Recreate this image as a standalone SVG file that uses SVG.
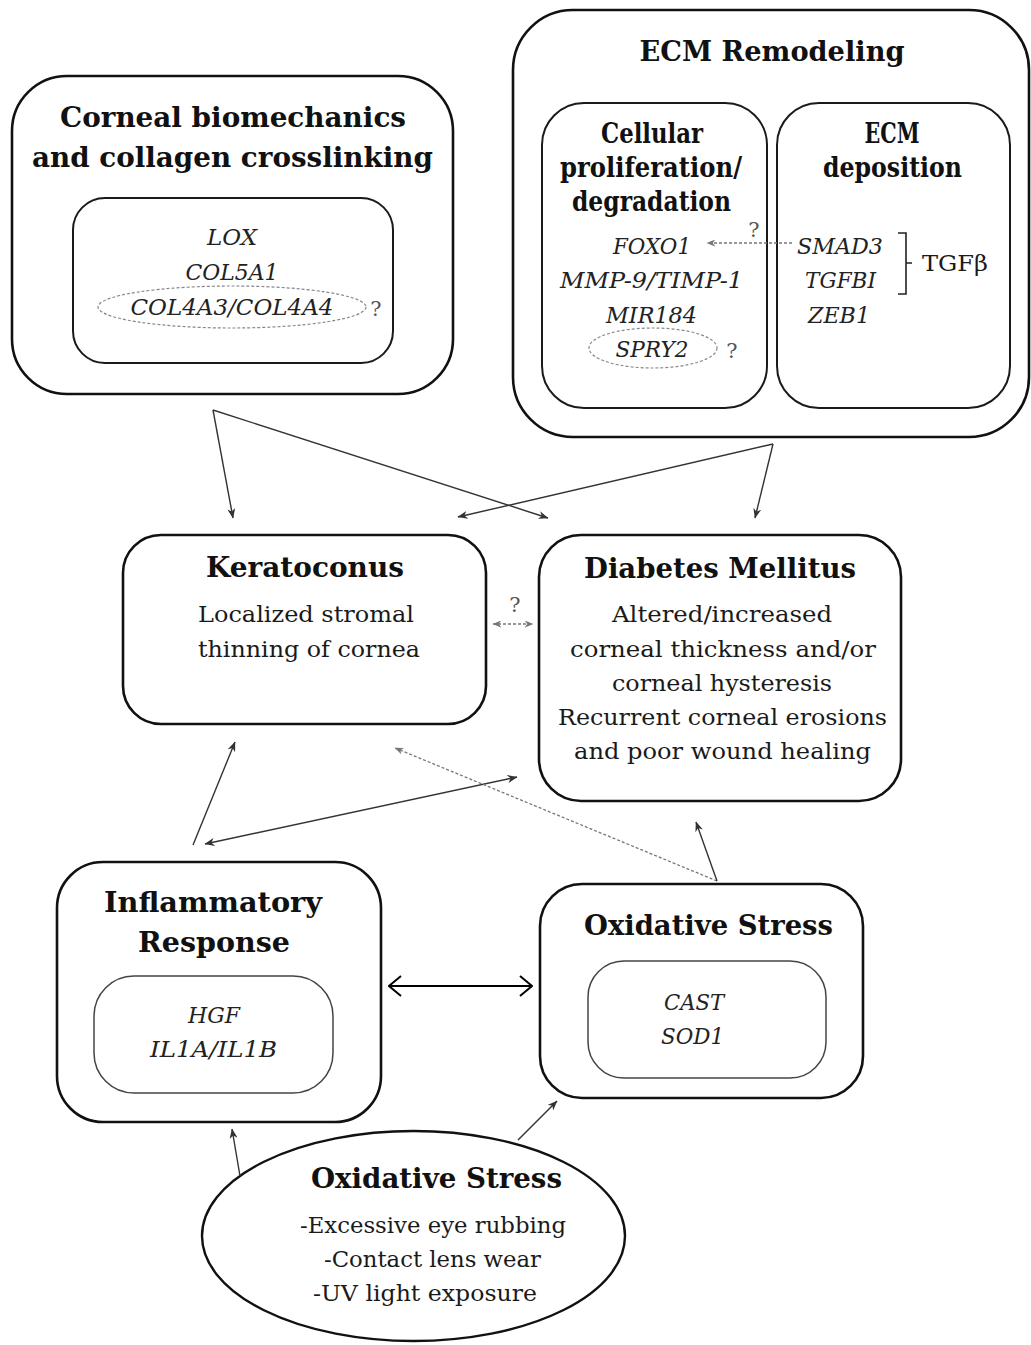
<svg xmlns="http://www.w3.org/2000/svg" width="1031" height="1345" viewBox="0 0 1031 1345">
<defs>
<style>
.box{fill:none;stroke:#111;stroke-width:2.6}
.ib{fill:none;stroke:#1a1a1a;stroke-width:2}
.ib2{fill:none;stroke:#444;stroke-width:1.5}
.tt{font-family:"DejaVu Serif","Liberation Serif",serif;font-weight:bold;font-size:27px;fill:#111;text-anchor:middle}
.bd{font-family:"DejaVu Serif","Liberation Serif",serif;font-size:23px;fill:#1a1a1a;text-anchor:middle}
.gn{font-family:"DejaVu Serif","Liberation Serif",serif;font-style:italic;font-size:23px;fill:#222;text-anchor:middle}
.q{font-family:"DejaVu Serif","Liberation Serif",serif;font-size:21px;fill:#555;text-anchor:middle}
.ln{stroke:#333;stroke-width:1.4;fill:none}
.dl{stroke:#777;stroke-width:1.3;stroke-dasharray:3 2;fill:none}
.el{fill:none;stroke:#888;stroke-width:1.2;stroke-dasharray:3 2}
.dbl{stroke:#000;stroke-width:2;fill:none}
</style>
<marker id="ah" viewBox="0 0 10 8" refX="9.5" refY="4" markerWidth="10" markerHeight="8" markerUnits="userSpaceOnUse" orient="auto-start-reverse"><path d="M0,0 L10,4 L0,8 L3,4 z" fill="#333"/></marker>
<marker id="ahg" viewBox="0 0 10 8" refX="9.5" refY="4" markerWidth="9" markerHeight="7" markerUnits="userSpaceOnUse" orient="auto-start-reverse"><path d="M0,0 L10,4 L0,8 L3,4 z" fill="#777"/></marker>
<marker id="chev" viewBox="0 0 14 22" refX="13" refY="11" markerWidth="14" markerHeight="22" markerUnits="userSpaceOnUse" orient="auto-start-reverse"><path d="M1,1 L13,11 L1,21" fill="none" stroke="#000" stroke-width="2"/></marker>
</defs>

<g id="corneal-biomechanics">
<rect class="box" x="12" y="76" width="441" height="318" rx="55"/>
<text class="tt" x="233" y="127" textLength="346" lengthAdjust="spacingAndGlyphs">Corneal biomechanics</text>
<text class="tt" x="232.5" y="167" textLength="401" lengthAdjust="spacingAndGlyphs">and collagen crosslinking</text>
<rect class="ib" x="73" y="198" width="320" height="165" rx="32"/>
<text class="gn" x="232" y="245" textLength="50" lengthAdjust="spacingAndGlyphs">LOX</text>
<text class="gn" x="232" y="280" textLength="93" lengthAdjust="spacingAndGlyphs">COL5A1</text>
<ellipse class="el" cx="232" cy="307" rx="134" ry="21"/>
<text class="gn" x="232" y="315" textLength="203" lengthAdjust="spacingAndGlyphs">COL4A3/COL4A4</text>
<text class="q" x="376" y="316">?</text>
</g>

<g id="ecm-remodeling">
<rect class="box" x="513" y="10" width="516" height="427" rx="60"/>
<text class="tt" x="772" y="61" textLength="265" lengthAdjust="spacingAndGlyphs">ECM Remodeling</text>
</g>

<g id="cellular-proliferation">
<rect class="ib" x="542" y="103" width="225" height="305" rx="42"/>
<text class="tt" x="652" y="143" textLength="102" lengthAdjust="spacingAndGlyphs">Cellular</text>
<text class="tt" x="651" y="177" textLength="182" lengthAdjust="spacingAndGlyphs">proliferation/</text>
<text class="tt" x="651.5" y="211" textLength="159" lengthAdjust="spacingAndGlyphs">degradation</text>
<text class="gn" x="652" y="254" textLength="78" lengthAdjust="spacingAndGlyphs">FOXO1</text>
<text class="gn" x="651.5" y="288" textLength="183" lengthAdjust="spacingAndGlyphs">MMP-9/TIMP-1</text>
<text class="gn" x="651.5" y="323" textLength="91" lengthAdjust="spacingAndGlyphs">MIR184</text>
<ellipse class="el" cx="653" cy="348" rx="64" ry="20"/>
<text class="gn" x="652" y="357" textLength="73" lengthAdjust="spacingAndGlyphs">SPRY2</text>
<text class="q" x="732" y="358">?</text>
</g>

<g id="ecm-deposition">
<rect class="ib" x="777" y="103" width="233" height="305" rx="42"/>
<text class="tt" x="892" y="143" textLength="55" lengthAdjust="spacingAndGlyphs">ECM</text>
<text class="tt" x="892.5" y="177" textLength="139" lengthAdjust="spacingAndGlyphs">deposition</text>
<text class="gn" x="840" y="254" textLength="86" lengthAdjust="spacingAndGlyphs">SMAD3</text>
<text class="gn" x="840.5" y="288" textLength="71" lengthAdjust="spacingAndGlyphs">TGFBI</text>
<text class="gn" x="839" y="323" textLength="62" lengthAdjust="spacingAndGlyphs">ZEB1</text>
<path d="M898,233 L906,233 L906,294 L898,294 M906,263 L912,263" fill="none" stroke="#222" stroke-width="1.6"/>
<text class="bd" x="955" y="271" textLength="66" lengthAdjust="spacingAndGlyphs">TGFβ</text>
</g>

<g id="keratoconus">
<rect class="box" x="123" y="535" width="363" height="189" rx="38"/>
<text class="tt" x="305" y="577" textLength="198" lengthAdjust="spacingAndGlyphs">Keratoconus</text>
<text class="bd" x="306" y="622" textLength="216" lengthAdjust="spacingAndGlyphs">Localized stromal</text>
<text class="bd" x="309" y="657" textLength="222" lengthAdjust="spacingAndGlyphs">thinning of cornea</text>
</g>

<g id="diabetes-mellitus">
<rect class="box" x="539" y="535" width="362" height="266" rx="42"/>
<text class="tt" x="720" y="578" textLength="272" lengthAdjust="spacingAndGlyphs">Diabetes Mellitus</text>
<text class="bd" x="722" y="622" textLength="220" lengthAdjust="spacingAndGlyphs">Altered/increased</text>
<text class="bd" x="723" y="657" textLength="306" lengthAdjust="spacingAndGlyphs">corneal thickness and/or</text>
<text class="bd" x="722" y="691" textLength="220" lengthAdjust="spacingAndGlyphs">corneal hysteresis</text>
<text class="bd" x="722.5" y="725" textLength="329" lengthAdjust="spacingAndGlyphs">Recurrent corneal erosions</text>
<text class="bd" x="722.5" y="759" textLength="297" lengthAdjust="spacingAndGlyphs">and poor wound healing</text>
</g>

<g id="inflammatory-response">
<rect class="box" x="57" y="862" width="324" height="260" rx="46"/>
<text class="tt" x="213" y="912" textLength="218" lengthAdjust="spacingAndGlyphs">Inflammatory</text>
<text class="tt" x="214" y="952" textLength="152" lengthAdjust="spacingAndGlyphs">Response</text>
<rect class="ib2" x="94" y="976" width="239" height="117" rx="40"/>
<text class="gn" x="214" y="1023" textLength="52" lengthAdjust="spacingAndGlyphs">HGF</text>
<text class="gn" x="213.5" y="1057" textLength="127" lengthAdjust="spacingAndGlyphs">IL1A/IL1B</text>
</g>

<g id="oxidative-stress-box">
<rect class="box" x="540" y="884" width="323" height="214" rx="42"/>
<text class="tt" x="708.5" y="935" textLength="249" lengthAdjust="spacingAndGlyphs">Oxidative Stress</text>
<rect class="ib2" x="588" y="961" width="238" height="117" rx="36"/>
<text class="gn" x="694" y="1010" textLength="60" lengthAdjust="spacingAndGlyphs">CAST</text>
<text class="gn" x="692.5" y="1044" textLength="63" lengthAdjust="spacingAndGlyphs">SOD1</text>
</g>

<g id="oxidative-stress-sources">
<ellipse cx="413.5" cy="1236" rx="211.5" ry="105" fill="none" stroke="#111" stroke-width="2.4"/>
<text class="tt" x="436.5" y="1188" textLength="251" lengthAdjust="spacingAndGlyphs">Oxidative Stress</text>
<text class="bd" x="433" y="1233" textLength="266" lengthAdjust="spacingAndGlyphs">-Excessive eye rubbing</text>
<text class="bd" x="432.5" y="1267" textLength="217" lengthAdjust="spacingAndGlyphs">-Contact lens wear</text>
<text class="bd" x="425" y="1301" textLength="224" lengthAdjust="spacingAndGlyphs">-UV light exposure</text>
</g>

<g id="connectors">
<path class="ln" d="M213,410 L233,518" marker-end="url(#ah)"/>
<path class="ln" d="M213,410 L548,518" marker-end="url(#ah)"/>
<path class="ln" d="M773,444 L458,517" marker-end="url(#ah)"/>
<path class="ln" d="M773,444 L755,518" marker-end="url(#ah)"/>
<path class="dl" d="M792,243 L707,243" marker-end="url(#ahg)"/>
<text class="q" x="754" y="237">?</text>
<path class="dl" d="M493,624 L533,624" marker-start="url(#ahg)" marker-end="url(#ahg)"/>
<text class="q" x="515" y="612">?</text>
<path class="ln" d="M193,845 L235,742" marker-end="url(#ah)" stroke="#555"/>
<path class="ln" d="M205,844 L517,777" marker-start="url(#ah)" marker-end="url(#ah)"/>
<path class="dl" d="M717,881 L395,748" marker-end="url(#ahg)"/>
<path class="ln" d="M717,881 L696,822" marker-end="url(#ah)" stroke="#666"/>
<path class="dbl" d="M389,986 L532,986" marker-start="url(#chev)" marker-end="url(#chev)"/>
<path class="ln" d="M240,1176 L232,1129" marker-end="url(#ah)" stroke="#555"/>
<path class="ln" d="M518,1140 L557,1101" marker-end="url(#ah)" stroke="#555"/>
</g>
</svg>
